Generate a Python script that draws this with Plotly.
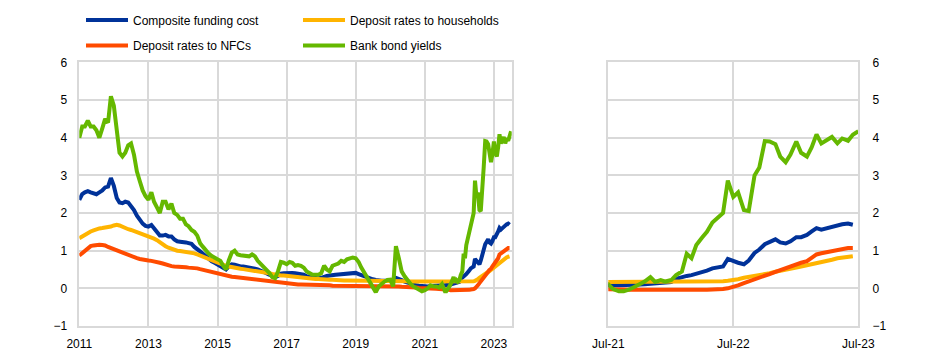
import pandas as pd
import plotly.graph_objects as go

# ---------------- data ----------------
hist_dates = pd.date_range("2011-01-01", "2021-06-01", freq="MS").strftime("%Y-%m-%d").tolist()
recent_dates = []
for yr in (2021, 2022, 2023):
    for mo in range(1, 13):
        if (yr == 2021 and mo < 7) or (yr == 2023 and mo > 7):
            continue
        recent_dates.append(f"{yr}-{mo:02d}-01")
        if not (yr == 2023 and mo == 7):
            recent_dates.append(f"{yr}-{mo:02d}-15")
dates = hist_dates + recent_dates

composite_hist = [
    2.35, 2.50, 2.55, 2.58, 2.55, 2.52, 2.50, 2.55, 2.60, 2.68, 2.70, 2.93,
    2.72, 2.40, 2.28, 2.26, 2.30, 2.28, 2.20, 2.08, 1.93, 1.82, 1.72, 1.66,
    1.64, 1.68, 1.60, 1.50, 1.40, 1.40, 1.42, 1.38, 1.38, 1.30, 1.25, 1.24,
    1.24, 1.22, 1.20, 1.18, 1.10, 1.05, 0.98, 0.92, 0.85, 0.78, 0.72, 0.68,
    0.64, 0.60, 0.55, 0.50, 0.58, 0.64, 0.63, 0.60, 0.58, 0.58, 0.57, 0.56,
    0.55, 0.52, 0.50, 0.47, 0.45, 0.40, 0.36, 0.32, 0.30, 0.33, 0.39, 0.40,
    0.41, 0.41, 0.41, 0.40, 0.39, 0.38, 0.36, 0.32, 0.30, 0.28, 0.27, 0.26,
    0.28, 0.32, 0.33, 0.34, 0.36, 0.36, 0.37, 0.38, 0.38, 0.39, 0.40, 0.41,
    0.41, 0.38, 0.35, 0.32, 0.30, 0.27, 0.24, 0.22, 0.20, 0.20, 0.20, 0.20,
    0.20, 0.19, 0.28, 0.26, 0.22, 0.18, 0.15, 0.12, 0.10, 0.08, 0.07, 0.06,
    0.05, 0.05, 0.06, 0.07, 0.08, 0.09,
]
composite_recent = [
    0.09, 0.08, 0.08, 0.08, 0.09, 0.09, 0.10, 0.11, 0.12, 0.13, 0.14, 0.15,
    0.17, 0.25, 0.30, 0.33, 0.35, 0.38, 0.42, 0.47, 0.53, 0.56, 0.58, 0.78,
    0.72, 0.68, 0.64, 0.74, 0.94, 1.03, 1.17, 1.23, 1.30, 1.22, 1.19, 1.25,
    1.36, 1.36, 1.42, 1.51, 1.60, 1.56, 1.60, 1.64, 1.67, 1.70, 1.72, 1.69, None,
]

households_hist = [
    1.33, 1.38, 1.43, 1.48, 1.51, 1.54, 1.57, 1.59, 1.60, 1.61, 1.62, 1.64,
    1.67, 1.69, 1.67, 1.63, 1.60, 1.57, 1.55, 1.52, 1.50, 1.47, 1.44, 1.42,
    1.40, 1.36, 1.32, 1.28, 1.22, 1.17, 1.12, 1.08, 1.05, 1.02, 1.00, 0.99,
    0.98, 0.97, 0.96, 0.95, 0.93, 0.90, 0.87, 0.84, 0.80, 0.77, 0.73, 0.70,
    0.68, 0.65, 0.62, 0.60, 0.58, 0.56, 0.55, 0.54, 0.52, 0.51, 0.50, 0.49,
    0.47, 0.46, 0.45, 0.44, 0.42, 0.41, 0.40, 0.38, 0.36, 0.35, 0.34, 0.34,
    0.33, 0.32, 0.31, 0.30, 0.30, 0.29, 0.28, 0.27, 0.27, 0.26, 0.25, 0.25,
    0.24, 0.24, 0.23, 0.23, 0.23, 0.22, 0.22, 0.22, 0.21, 0.21, 0.21, 0.21,
    0.21, 0.21, 0.20, 0.20, 0.20, 0.20, 0.20, 0.20, 0.20, 0.20, 0.20, 0.20,
    0.20, 0.20, 0.20, 0.19, 0.19, 0.19, 0.19, 0.18, 0.18, 0.18, 0.18, 0.18,
    0.17, 0.17, 0.17, 0.17, 0.17, 0.17,
]
households_recent = [
    0.17, 0.17, 0.17, 0.17, 0.17, 0.17, 0.17, 0.17, 0.17, 0.17, 0.17, 0.17,
    0.17, 0.17, 0.17, 0.17, 0.17, 0.17, 0.18, 0.18, 0.18, 0.19, 0.19, 0.20,
    0.21, 0.24, 0.28, 0.30, 0.33, 0.35, 0.38, 0.40, 0.44, 0.46, 0.49, 0.52,
    0.55, 0.58, 0.61, 0.64, 0.67, 0.70, 0.73, 0.76, 0.80, 0.82, 0.84, 0.85, None,
]

nfc_hist = [
    0.87, 0.93, 0.98, 1.05, 1.12, 1.14, 1.16, 1.16, 1.15, 1.14, 1.10, 1.07,
    1.03, 1.00, 0.98, 0.94, 0.90, 0.87, 0.85, 0.82, 0.80, 0.78, 0.76, 0.75,
    0.74, 0.73, 0.72, 0.70, 0.68, 0.66, 0.63, 0.61, 0.59, 0.58, 0.58, 0.58,
    0.57, 0.56, 0.55, 0.55, 0.54, 0.53, 0.51, 0.49, 0.47, 0.45, 0.43, 0.41,
    0.39, 0.37, 0.35, 0.33, 0.32, 0.31, 0.30, 0.29, 0.28, 0.27, 0.26, 0.25,
    0.24, 0.23, 0.22, 0.21, 0.20, 0.19, 0.18, 0.17, 0.16, 0.15, 0.14, 0.13,
    0.12, 0.12, 0.11, 0.11, 0.10, 0.10, 0.10, 0.09, 0.09, 0.09, 0.08, 0.08,
    0.08, 0.08, 0.08, 0.08, 0.07, 0.07, 0.07, 0.07, 0.07, 0.07, 0.07, 0.07,
    0.07, 0.07, 0.07, 0.07, 0.07, 0.06, 0.06, 0.06, 0.06, 0.06, 0.05, 0.05,
    0.05, 0.05, 0.05, 0.05, 0.04, 0.04, 0.03, 0.03, 0.02, 0.02, 0.01, 0.01,
    0.00, 0.00, -0.01, -0.01, -0.01, -0.02,
]
nfc_recent = [
    -0.02, -0.02, -0.03, -0.03, -0.04, -0.04, -0.05, -0.05, -0.05, -0.05, -0.06, -0.06,
    -0.06, -0.06, -0.06, -0.05, -0.05, -0.05, -0.05, -0.04, -0.03, -0.03, -0.02, 0.00,
    0.03, 0.08, 0.14, 0.18, 0.24, 0.28, 0.33, 0.38, 0.44, 0.49, 0.52, 0.58,
    0.63, 0.68, 0.72, 0.80, 0.90, 0.93, 0.96, 0.99, 1.02, 1.05, 1.07, 1.07, None,
]

bonds_hist = [
    4.00, 4.30, 4.30, 4.45, 4.30, 4.30, 4.20, 4.00, 4.25, 4.50, 4.40, 5.10,
    4.85, 4.10, 3.60, 3.50, 3.60, 3.80, 3.85, 3.55, 3.10, 2.85, 2.60, 2.45,
    2.35, 2.55, 2.30, 2.15, 2.00, 2.30, 2.30, 2.10, 2.25, 2.00, 1.95, 1.85,
    1.85, 1.70, 1.65, 1.55, 1.50, 1.40, 1.20, 1.10, 1.00, 0.92, 0.86, 0.82,
    0.80, 0.73, 0.60, 0.50, 0.75, 0.95, 1.00, 0.90, 0.88, 0.87, 0.86, 0.85,
    0.90, 0.85, 0.73, 0.65, 0.60, 0.50, 0.41, 0.30, 0.27, 0.45, 0.70, 0.68,
    0.64, 0.70, 0.68, 0.60, 0.62, 0.60, 0.55, 0.45, 0.40, 0.36, 0.36, 0.36,
    0.40, 0.60, 0.50, 0.45, 0.60, 0.64, 0.66, 0.73, 0.70, 0.77, 0.80, 0.82,
    0.80, 0.70, 0.55, 0.42, 0.30, 0.15, 0.00, -0.10, 0.05, 0.12, 0.18, 0.22,
    0.23, 0.05, 1.12, 0.80, 0.45, 0.32, 0.20, 0.12, 0.05, 0.00, -0.05, -0.08,
    -0.05, 0.00, 0.08, 0.05, 0.05, 0.02,
]
bonds_recent = [
    0.11, -0.02, -0.08, -0.08, -0.03, 0.04, 0.11, 0.18, 0.30, 0.17, 0.22, 0.18,
    0.22, 0.35, 0.45, 0.92, 0.80, 1.15, 1.35, 1.50, 1.75, 1.85, 2.00, 2.86,
    2.43, 2.55, 2.08, 2.05, 3.00, 3.21, 3.91, 3.90, 3.83, 3.50, 3.35, 3.55,
    3.90, 3.60, 3.50, 3.75, 4.09, 3.85, 3.95, 4.02, 3.85, 3.98, 3.92, 4.08, 4.17,
]

series_names = ["Composite funding cost", "Deposit rates to households",
                "Deposit rates to NFCs", "Bank bond yields"]
series_values = [composite_hist + composite_recent,
                 households_hist + households_recent,
                 nfc_hist + nfc_recent,
                 bonds_hist + bonds_recent]
series_colors = ["#003299", "#FFB400", "#FF4B00", "#65B800"]
series_legend = ["legend", "legend", "legend2", "legend2"]

y_ticks = [-1, 0, 1, 2, 3, 4, 5, 6]
left_ticks = ["2011-01-01", "2013-01-01", "2015-01-01", "2017-01-01",
              "2019-01-01", "2021-01-01", "2023-01-01"]
left_labels = ["2011", "2013", "2015", "2017", "2019", "2021", "2023"]
right_ticks = ["2021-07-01", "2022-07-01", "2023-07-01"]
right_labels = ["Jul-21", "Jul-22", "Jul-23"]

# ---------------- figure ----------------
FONT = "Liberation Sans, Arial, sans-serif"
GRID = "#d9d9d9"
W, H = 940, 354
LW = 4

fig = go.Figure()
for name, vals, col, lg in zip(series_names, series_values, series_colors, series_legend):
    fig.add_trace(go.Scatter(x=dates, y=vals, name=name, mode="lines",
                             line=dict(color=col, width=LW), xaxis="x", yaxis="y",
                             legend=lg, showlegend=True, connectgaps=False))
for name, vals, col in zip(series_names, series_values, series_colors):
    fig.add_trace(go.Scatter(x=dates, y=vals, name=name, mode="lines",
                             line=dict(color=col, width=LW), xaxis="x2", yaxis="y2",
                             showlegend=False, connectgaps=False))

ydom = [1 - 326.0 / H, 1 - 62.4 / H]
axis_common = dict(showgrid=True, gridcolor=GRID, gridwidth=1.5, zeroline=False,
                   showline=True, mirror=True, linecolor=GRID, linewidth=1.5,
                   automargin=False,
                   tickfont=dict(family=FONT, size=12, color="#000000"), ticks="")

legend_common = dict(orientation="h", xanchor="left", yanchor="middle",
                     entrywidth=160, entrywidthmode="pixels", itemwidth=42,
                     font=dict(family=FONT, size=12, color="#000000"),
                     bgcolor="rgba(0,0,0,0)", borderwidth=0, tracegroupgap=0)

fig.update_layout(
    width=W, height=H,
    margin=dict(l=0, r=0, t=0, b=0, autoexpand=False),
    paper_bgcolor="white", plot_bgcolor="white",
    font=dict(family=FONT, size=12, color="#000000"),
    xaxis=dict(domain=[79.3 / W, 511.7 / W], type="date",
               range=["2011-01-01", "2023-07-08"],
               tickvals=left_ticks, ticktext=left_labels,
               ticklabelstandoff=6, anchor="y", **axis_common),
    yaxis=dict(domain=ydom, range=[-1, 6], tickvals=y_ticks,
               ticklabelstandoff=8, anchor="x", side="left", **axis_common),
    xaxis2=dict(domain=[608.3 / W, 858.3 / W], type="date",
                range=["2021-07-01", "2023-07-01"],
                tickvals=right_ticks, ticktext=right_labels,
                ticklabelstandoff=6, anchor="y2", **axis_common),
    yaxis2=dict(domain=ydom, range=[-1, 6], tickvals=y_ticks,
                ticklabelstandoff=10, anchor="x2", side="right", **axis_common),
    legend=dict(x=81 / W, y=1 - 20 / H, **legend_common),
    legend2=dict(x=81 / W, y=1 - 45.5 / H, **legend_common),
)

fig.write_html("out.html")
